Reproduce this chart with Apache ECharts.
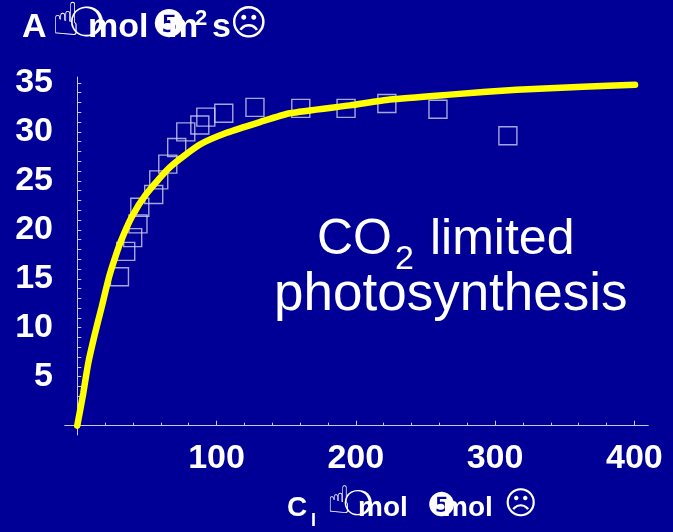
<!DOCTYPE html>
<html>
<head>
<meta charset="utf-8">
<script src="https://cdn.jsdelivr.net/npm/echarts@6/dist/echarts.min.js"></script>
<style>
  html, body { margin: 0; padding: 0; background: #000096; }
  #chart { width: 673px; height: 532px; }
</style>
</head>
<body>
<div id="chart"></div>
<script>
// measured Ci / A points (squares)
var ciObs = [30.3, 34.8, 39.8, 43.6, 44.9, 54.9, 58.5, 65, 71.4, 77.9, 88, 92.3, 105.2, 127.6, 160.5, 193, 222.3, 259, 309.2];
var aObs = [15.2, 17.8, 19.2, 20.6, 22.3, 23.6, 25.1, 26.7, 28.4, 30.0, 30.7, 31.5, 31.9, 32.5, 32.4, 32.4, 32.9, 32.3, 29.6];

// fitted curve
var ciFit = [0, 4.3, 7.9, 12.7, 17.5, 22.3, 25.9, 30.7, 39.1, 49.8, 66.6, 88.1, 107.3, 131.2, 152.7, 195.8, 224.5, 267.6, 315.5, 363.2, 400.5];
var aFit = [0, 3.3, 6.4, 9.4, 12.1, 14.9, 16.6, 18.6, 21.3, 23.7, 26.4, 28.7, 29.9, 31.0, 31.9, 32.7, 33.3, 33.8, 34.3, 34.6, 34.8];

var xLabels = [100, 200, 300, 400];
var xMinorTicks = [20, 40, 60, 80, 120, 140, 160, 180, 220, 240, 260, 280, 320, 340, 360, 380];
var yLabels = [5, 10, 15, 20, 25, 30, 35];
var yTicks = [];
for (var i = 0; i <= 35; i++) yTicks.push(i);

var axisColor = '#c8c8e6';
var boldFont = 'Liberation Sans';
var symFont = 'DejaVu Sans';
var gridBox = {left: 65, top: 77, width: 583, height: 358, outerBoundsMode: 'none'};
var xRange = {min: -8.8, max: 409.8};
var yRange = {min: -0.95, max: 35.6};

function txt(s, x, y, size, bold, family) {
    return {
        type: 'text', left: x, top: y - size / 2,
        style: {
            text: s, fill: '#ffffff',
            font: (bold ? 'bold ' : '') + size + 'px "' + (family || boldFont) + '"'
        }
    };
}

var chart = echarts.init(document.getElementById('chart'));
chart.setOption({
    backgroundColor: '#000096',
    animation: false,
    // second grid only carries the longer ticks at the labelled values
    grid: [gridBox, gridBox],
    xAxis: [
        {
            type: 'value', gridIndex: 0, min: xRange.min, max: xRange.max,
            splitLine: {show: false},
            axisLine: {onZero: true, lineStyle: {color: axisColor, width: 1}},
            axisTick: {inside: true, length: 3, customValues: xMinorTicks, lineStyle: {color: axisColor}},
            axisLabel: {show: false}
        },
        {
            type: 'value', gridIndex: 1, min: xRange.min, max: xRange.max,
            splitLine: {show: false},
            axisLine: {onZero: true, lineStyle: {color: axisColor, width: 1}},
            axisTick: {inside: true, length: 5, customValues: xLabels, lineStyle: {color: axisColor}},
            axisLabel: {
                customValues: xLabels, color: '#ffffff', margin: 7,
                fontFamily: boldFont, fontWeight: 'bold', fontSize: 34
            }
        }
    ],
    yAxis: [
        {
            type: 'value', gridIndex: 0, min: yRange.min, max: yRange.max,
            splitLine: {show: false},
            axisLine: {onZero: true, lineStyle: {color: axisColor, width: 1}},
            axisTick: {inside: true, length: 4, customValues: yTicks, lineStyle: {color: axisColor}},
            axisLabel: {
                customValues: yLabels, color: '#ffffff', margin: 12,
                fontFamily: boldFont, fontWeight: 'bold', fontSize: 34
            }
        },
        {
            type: 'value', gridIndex: 1, min: yRange.min, max: yRange.max,
            splitLine: {show: false},
            axisLine: {show: false, onZero: true},
            axisTick: {show: false},
            axisLabel: {show: false}
        }
    ],
    series: [
        {
            type: 'scatter',
            data: ciObs.map(function (c, k) { return [c, aObs[k]]; }),
            symbol: 'rect', symbolSize: 18,
            itemStyle: {color: 'transparent', borderColor: '#d0d0f0', borderWidth: 1.4},
            z: 2
        },
        {
            type: 'line',
            data: ciFit.map(function (c, k) { return [c, aFit[k]]; }),
            smooth: 0.2, symbol: 'none',
            lineStyle: {color: '#ffff00', width: 6.5, cap: 'round'},
            z: 3
        }
    ],
    graphic: [
        // y axis title
        txt('A', 22, 28, 34, true),
        txt('☝', 52, 23, 46, false, symFont),
        txt('❍', 69, 26, 40, false, symFont),
        txt('mol', 88, 28, 34, true),
        txt('❺', 152, 27, 38, false, symFont),
        txt('m', 168, 28, 34, true),
        txt('2', 195, 19, 22, true),
        txt('s', 212, 28, 34, true),
        txt('☹', 230, 26, 36, false, symFont),
        // x axis title
        txt('C', 287, 508, 28, true),
        txt('I', 311, 521, 18, true),
        txt('☝', 327, 503, 38, false, symFont),
        txt('❍', 343, 506, 34, false, symFont),
        txt('mol', 358, 508, 28, true),
        txt('❺', 427, 507, 33, false, symFont),
        txt('mol', 443, 508, 28, true),
        txt('☹', 504, 506, 32, false, symFont),
        // annotation
        txt('CO', 317, 240, 50, false),
        txt('2', 395, 260, 34, false),
        txt('limited', 430, 240, 50, false),
        txt('photosynthesis', 274, 295, 53, false)
    ]
});
</script>
</body>
</html>
